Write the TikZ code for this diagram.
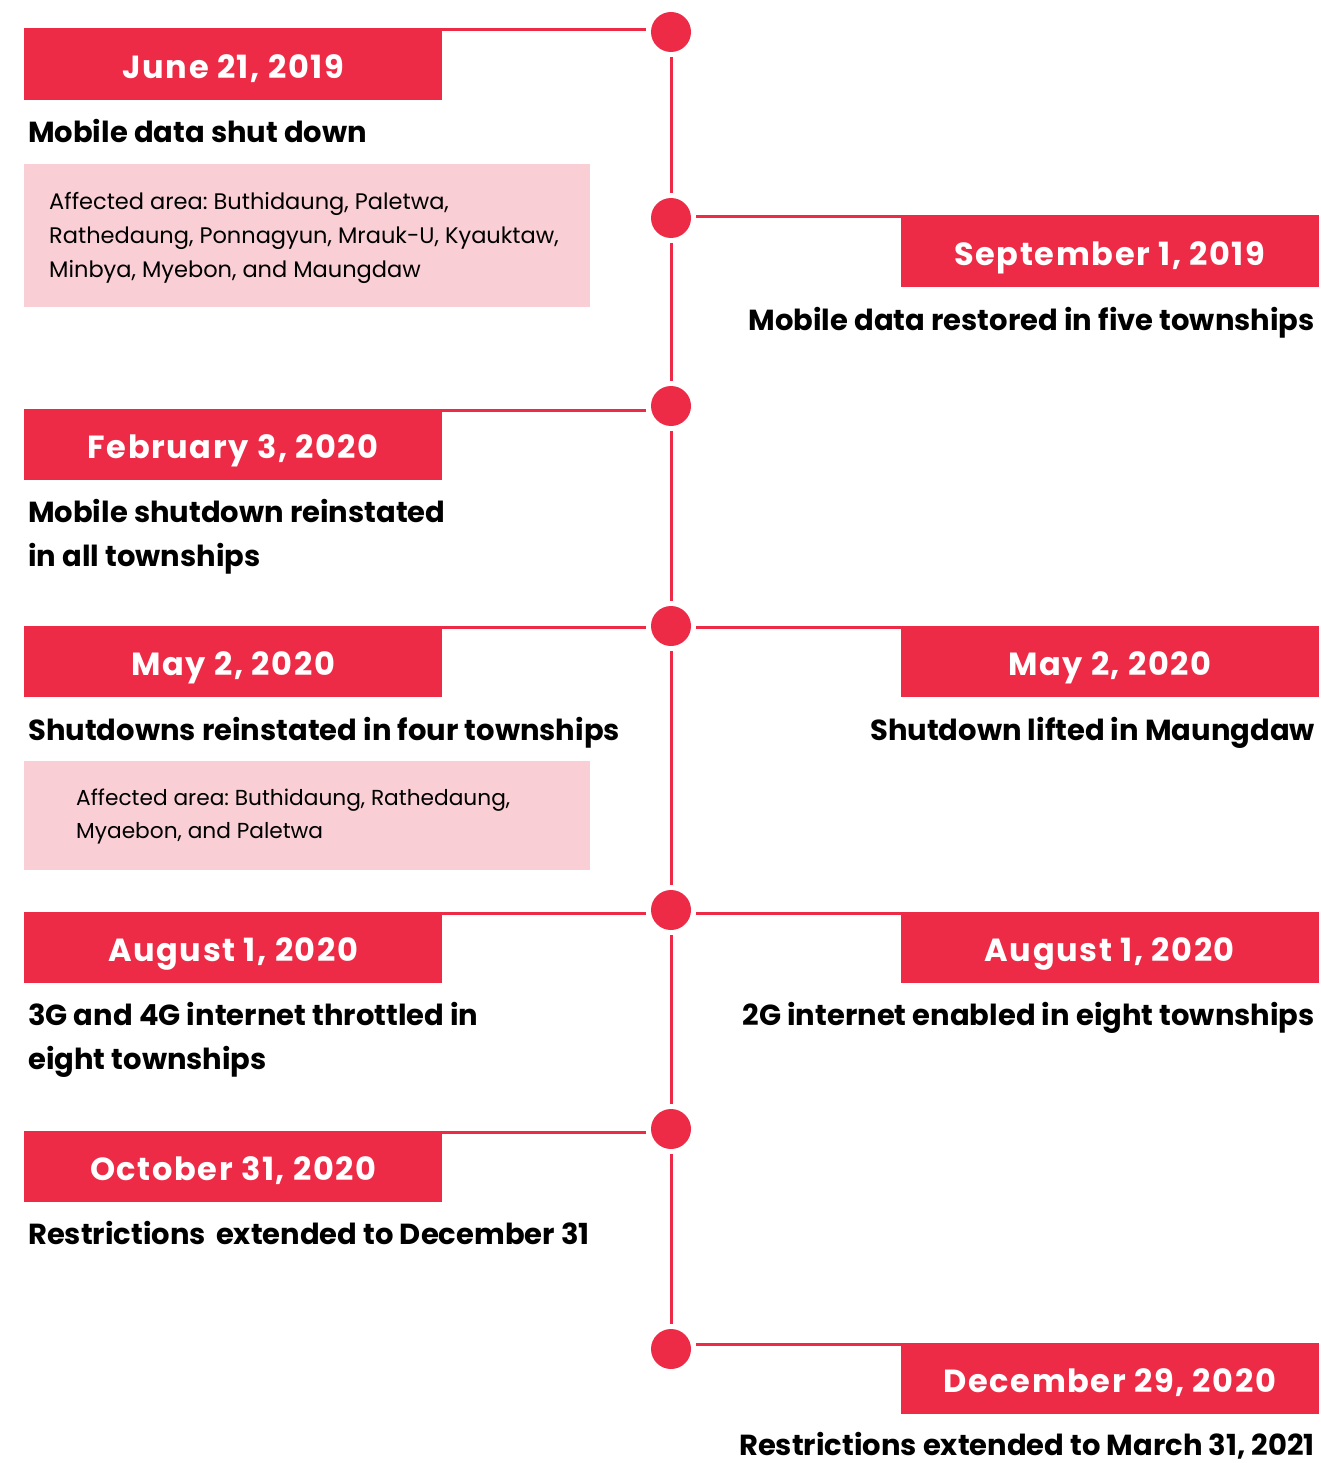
\documentclass[tikz,border=0pt]{standalone}
\usepackage{fontspec}
\setmainfont{Poppins}
\newfontfamily\datefont{Poppins}[LetterSpace=5]
\definecolor{tlred}{HTML}{ED2B47}
\definecolor{tlpink}{HTML}{F9CED4}

\begin{document}
\begin{tikzpicture}[x = 1pt, y = -1pt,
                    dot/.style = {circle, fill = tlred, inner sep = 0pt, minimum size = 40pt, outer sep = 5pt},
                    datebox/.style = {rectangle, fill = tlred, text = white, inner sep = 0pt,
                                      minimum width = 418pt, minimum height = 70pt,
                                      text height = 26pt, text depth = 0pt,
                                      font = \datefont\bfseries\fontsize{32}{38}\selectfont},
                    event/.style = {inner sep = 0pt, align = left, font = \bfseries\fontsize{29}{44}\selectfont},
                    areabox/.style = {rectangle, fill = tlpink, inner sep = 0pt, minimum width = 566pt},
                    areatext/.style = {inner sep = 0pt, align = left},
                    link/.style = {draw = tlred, line width = 3pt}]
  \fill [white] (0, 0) rectangle (1319, 1463);
  \frenchspacing

  \node [dot] (D1) at (671, 32){};
  \node [dot] (D2) at (671, 218){};
  \node [dot] (D3) at (671, 406){};
  \node [dot] (D4) at (671, 626){};
  \node [dot] (D5) at (671, 910){};
  \node [dot] (D6) at (671, 1129){};
  \node [dot] (D7) at (671, 1349){};

  \node [datebox, anchor = north west] (B1) at (24, 30){June 21, 2019};
  \node [datebox, anchor = north east] (B2) at (1319, 217){September 1, 2019};
  \node [datebox, anchor = north west] (B3) at (24, 410){February 3, 2020};
  \node [datebox, anchor = north west] (B4) at (24, 627){May 2, 2020};
  \node [datebox, anchor = north east] (B5) at (1319, 627){May 2, 2020};
  \node [datebox, anchor = north west] (B6) at (24, 913){August 1, 2020};
  \node [datebox, anchor = north east] (B7) at (1319, 913){August 1, 2020};
  \node [datebox, anchor = north west] (B8) at (24, 1132){October 31, 2020};
  \node [datebox, anchor = north east] (B9) at (1319, 1344){December 29, 2020};

  \node [event, anchor = base west] (E1) at (28, 143){Mobile data shut down};
  \node [event, anchor = base east] (E2) at (1315, 330){Mobile data restored in five townships};
  \node [event, anchor = west] (E3) at (28, 537){Mobile shutdown reinstated\\in all townships};
  \node [event, anchor = base west] (E4) at (28, 740){Shutdowns reinstated in four townships};
  \node [event, anchor = base east] (E5) at (1315, 740){Shutdown lifted in Maungdaw};
  \node [event, anchor = west] (E6) at (28, 1040){3G and 4G internet throttled in\\eight townships};
  \node [event, anchor = base east] (E7) at (1315, 1025){2G internet enabled in eight townships};
  \node [event, anchor = base west] (E8) at (28, 1244){Restrictions\hspace{4pt} extended to December 31};
  \node [event, anchor = base east] (E9) at (1315, 1455){Restrictions extended to March 31, 2021};

  \node [areabox, minimum height = 143pt, anchor = north west] (A1) at (24, 164){};
  \node [areatext, anchor = west, font = \fontsize{22.5}{34}\selectfont] (A1t) at ([xshift = 25pt, yshift = -2pt]A1.west)
        {Affected area: Buthidaung, Paletwa,\\Rathedaung, Ponnagyun, Mrauk-U, Kyauktaw,\\Minbya, Myebon, and Maungdaw};
  \node [areabox, minimum height = 109pt, anchor = north west] (A2) at (24, 761){};
  \node [areatext, anchor = west, font = \fontsize{21.7}{33}\selectfont] (A2t) at ([xshift = 52pt, yshift = -1pt]A2.west)
        {Affected area: Buthidaung, Rathedaung,\\Myaebon, and Paletwa};

  \draw [link] (D1.south) -- (D2.north);
  \draw [link] (D2.south) -- (D3.north);
  \draw [link] (D3.south) -- (D4.north);
  \draw [link] (D4.south) -- (D5.north);
  \draw [link] (D5.south) -- (D6.north);
  \draw [link] (D6.south) -- (D7.north);

  \draw [link] (B1.north west) -- (B1.north west -| D1.west);
  \draw [link] (B2.north east) -- (B2.north east -| D2.east);
  \draw [link] (B3.north west) -- (B3.north west -| D3.west);
  \draw [link] (B4.north west) -- (B4.north west -| D4.west);
  \draw [link] (B5.north east) -- (B5.north east -| D4.east);
  \draw [link] (B6.north west) -- (B6.north west -| D5.west);
  \draw [link] (B7.north east) -- (B7.north east -| D5.east);
  \draw [link] (B8.north west) -- (B8.north west -| D6.west);
  \draw [link] (B9.north east) -- (B9.north east -| D7.east);
\end{tikzpicture}
\end{document}
